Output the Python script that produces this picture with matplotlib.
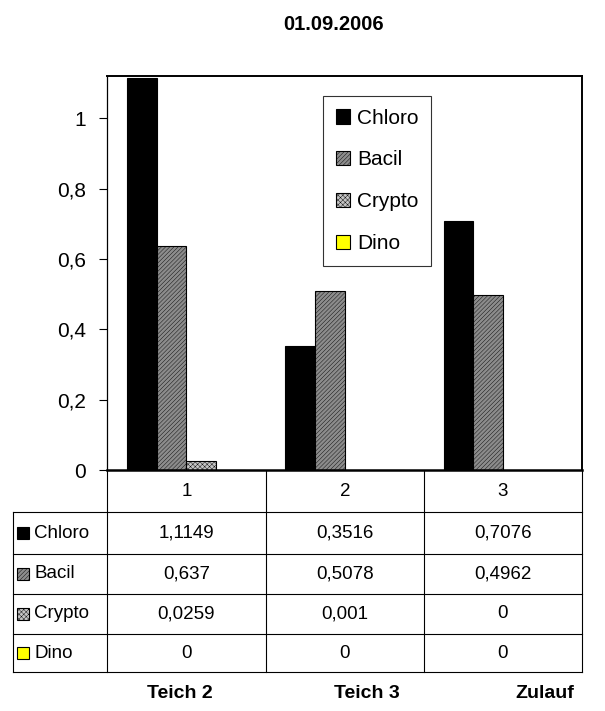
import numpy as np
import matplotlib.pyplot as plt
from matplotlib.patches import Rectangle

plt.rcParams['font.family'] = ['Liberation Sans', 'DejaVu Sans']
plt.rcParams['hatch.linewidth'] = 0.3

# Data
title = '01.09.2006'
categories = ['1', '2', '3']
sites = ['Teich 2', 'Teich 3', 'Zulauf']
series = ['Chloro', 'Bacil', 'Crypto', 'Dino']
chloro = [1.1149, 0.3516, 0.7076]
bacil = [0.637, 0.5078, 0.4962]
crypto = [0.0259, 0.001, 0.0]
dino = [0.0, 0.0, 0.0]
values = [chloro, bacil, crypto, dino]
yticks = [0, 0.2, 0.4, 0.6, 0.8, 1.0]
ytick_labels = ['0', '0,2', '0,4', '0,6', '0,8', '1']

# bar styles: face colour, hatch
styles = [('#000000', None), ('#8c8c8c', '////////'), ('#c4c4c4', 'xxxxxxx'), ('#ffff00', None)]

def fmt(v):
    return f'{v:g}'.replace('.', ',')

W, H = 605, 711
fig = plt.figure(figsize=(W / 100, H / 100), dpi=100)

def fx(px):
    return px / W

def fy(py):
    return 1 - py / H

# chart area in pixels
left, right, top, bottom = 107, 582, 76, 470
ax = fig.add_axes([fx(left), fy(bottom), fx(right - left), (bottom - top) / H])

x = np.arange(len(categories))
bw = 0.187
for i, (name, vals) in enumerate(zip(series, values)):
    fc, hatch = styles[i]
    ax.bar(x + (i - 1.5) * bw, vals, bw, color=fc, hatch=hatch,
           edgecolor='black', linewidth=0.8, label=name, zorder=2)

ax.set_xlim(-0.5, len(categories) - 0.5)
ax.set_ylim(0, 1.12)
ax.set_xticks([])
ax.set_yticks(yticks)
ax.set_yticklabels(ytick_labels, fontsize=15)
ax.tick_params(axis='y', direction='out', length=6, width=0.8, pad=9)
ax.spines['left'].set_linewidth(0.9)
ax.spines['top'].set_linewidth(1.4)
ax.spines['right'].set_linewidth(1.4)
ax.spines['bottom'].set_linewidth(1.8)

leg = ax.legend(loc='upper left', bbox_to_anchor=(fx(323), fy(96)),
                bbox_transform=fig.transFigure, borderaxespad=0,
                fontsize=15, frameon=True, fancybox=False,
                handlelength=0.7, handleheight=0.7, handletextpad=0.35,
                labelspacing=1.1, borderpad=0.6)
leg.get_frame().set_edgecolor('black')
leg.get_frame().set_linewidth(0.8)

# data table below the chart, drawn in pixel coordinates
tab = fig.add_axes([0, 0, 1, 1], zorder=-1)
tab.set_xlim(0, W)
tab.set_ylim(H, 0)
tab.axis('off')

col_edges = [107, 266, 424, 582]
row_edges = [512, 554, 594, 634, 672]
tab_left = 13
lc = dict(color='black', linewidth=0.8)

for cx in col_edges:
    tab.plot([cx, cx], [bottom, row_edges[-1]], **lc)
tab.plot([tab_left, tab_left], [row_edges[0], row_edges[-1]], **lc)
for ry in row_edges:
    tab.plot([tab_left, col_edges[-1]], [ry, ry], **lc)

col_mid = [(a + b) / 2 for a, b in zip(col_edges[:-1], col_edges[1:])]
for cx, lab in zip(col_mid, categories):
    tab.text(cx, (bottom + row_edges[0]) / 2, lab, ha='center', va='center', fontsize=13.5)

for r, (name, vals) in enumerate(zip(series, values)):
    cy = (row_edges[r] + row_edges[r + 1]) / 2
    fc, hatch = styles[r]
    tab.add_patch(Rectangle((17, cy - 6), 12, 12, facecolor=fc, hatch=hatch,
                            edgecolor='black', linewidth=0.8))
    tab.text(34, cy, name, ha='left', va='center', fontsize=13.5)
    for cx, v in zip(col_mid, vals):
        tab.text(cx, cy, fmt(v), ha='center', va='center', fontsize=13.5)

fig.text(fx(334), fy(25), title, ha='center', va='center', fontsize=14.5, fontweight='bold')
for px, s in zip([180, 367, 545], sites):
    fig.text(fx(px), fy(694), s, ha='center', va='center', fontsize=14, fontweight='bold')

fig.savefig('out.png', dpi=100)
